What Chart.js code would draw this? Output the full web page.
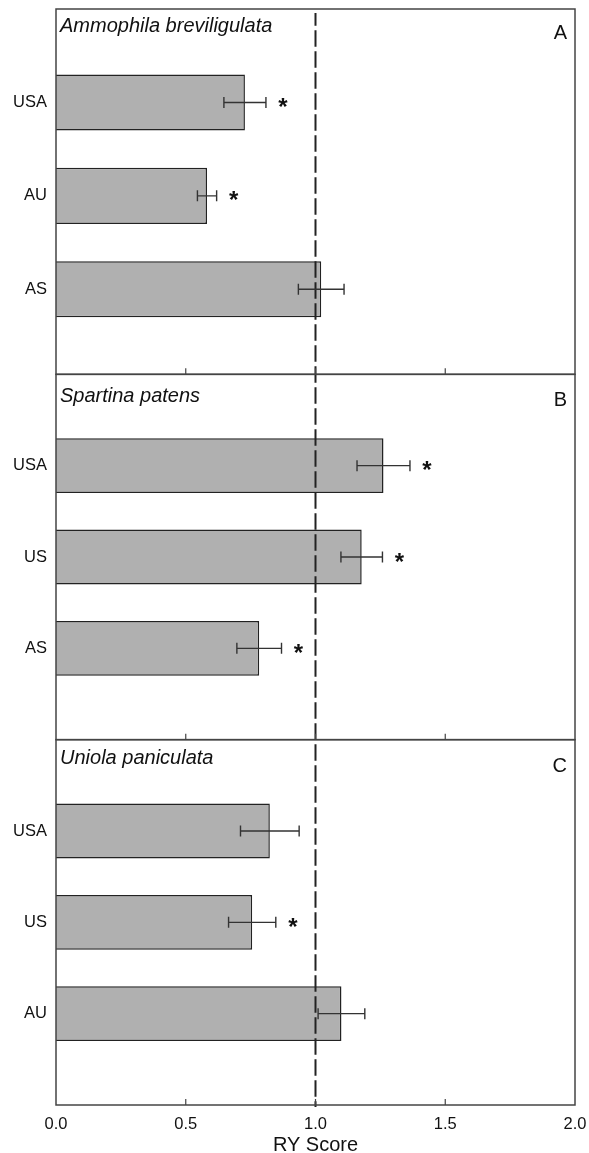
<!DOCTYPE html>
<html lang="en">
<head>
  <meta charset="UTF-8" />
  <title>RY Score</title>
  <script src="https://cdn.jsdelivr.net/npm/chart.js"></script>
  <style>
    html, body { margin: 0; padding: 0; background: #fff; }
  </style>
</head>
<body>
  <canvas id="chart" width="589" height="1153"></canvas>

  <script>
    const FONT = "'Liberation Sans', Arial, sans-serif";

    // panel A
    const speciesA = "Ammophila breviligulata";
    const catsA = ["USA", "AU", "AS"];
    const valsA = [0.728, 0.582, 1.022];
    const errA = [0.081, 0.037, 0.088];
    const sigA = [true, true, false];

    // panel B
    const speciesB = "Spartina patens";
    const catsB = ["USA", "US", "AS"];
    const valsB = [1.262, 1.178, 0.783];
    const errB = [0.102, 0.080, 0.086];
    const sigB = [true, true, true];

    // panel C
    const speciesC = "Uniola paniculata";
    const catsC = ["USA", "US", "AU"];
    const valsC = [0.824, 0.756, 1.100];
    const errC = [0.113, 0.091, 0.090];
    const sigC = [false, true, false];

    const xTicks = [0, 0.5, 1.0, 1.5, 2.0];
    const refLine = 1.0;

    const panels = [
      { id: "yA", letter: "A", species: speciesA, cats: catsA, vals: valsA, err: errA, sig: sigA, max: 3.91, titleDy: 22.5, letterDy: 30 },
      { id: "yB", letter: "B", species: speciesB, cats: catsB, vals: valsB, err: errB, sig: sigB, max: 4, titleDy: 28, letterDy: 32 },
      { id: "yC", letter: "C", species: speciesC, cats: catsC, vals: valsC, err: errC, sig: sigC, max: 4, titleDy: 24.5, letterDy: 32 }
    ];

    function yScale(p, weight) {
      return {
        type: "linear",
        position: "left",
        stack: "panels",
        stackWeight: 1,
        weight: weight,
        reverse: true,
        offset: false,
        min: 0,
        max: p.max,
        afterBuildTicks: s => { s.ticks = p.cats.map((c, i) => ({ value: i + 1 })); },
        ticks: {
          callback: v => p.cats[v - 1] || "",
          font: { family: FONT, size: 16.5 },
          color: "#111",
          padding: 9
        },
        grid: { display: false, drawTicks: false, offset: false },
        border: { display: false },
        afterFit: s => { s.width = 56; s.paddingTop = 0; s.paddingBottom = 0; }
      };
    }

    const scales = {
      x: {
        type: "linear",
        position: "bottom",
        min: 0,
        max: 2,
        afterBuildTicks: s => { s.ticks = xTicks.map(v => ({ value: v })); },
        ticks: {
          callback: v => v.toFixed(1),
          font: { family: FONT, size: 16.5 },
          color: "#111",
          padding: 10,
          maxRotation: 0
        },
        grid: { display: false, drawTicks: false },
        border: { display: false },
        title: {
          display: true,
          text: "RY Score",
          font: { family: FONT, size: 20, lineHeight: 1 },
          color: "#111",
          padding: { top: 0, bottom: -2 }
        },
        afterFit: s => { s.height = 48; s.paddingLeft = 0; s.paddingRight = 0; }
      }
    };
    panels.forEach((p, k) => { scales[p.id] = yScale(p, 3 - k); });

    const datasets = panels.map(p => ({
      label: p.species,
      data: p.vals.map((v, i) => ({ x: v, y: i + 1 })),
      yAxisID: p.id,
      xAxisID: "x",
      grouped: false,
      backgroundColor: "#b0b0b0",
      borderColor: "#222",
      borderWidth: 1.5,
      barPercentage: 0.6,
      categoryPercentage: 1
    }));

    const panelDecor = {
      id: "panelDecor",
      afterDatasetsDraw(chart) {
        const { ctx, chartArea, scales } = chart;
        const x = scales.x;
        ctx.save();

        // dashed reference line
        const rx = x.getPixelForValue(refLine);
        ctx.strokeStyle = "#222";
        ctx.lineWidth = 2;
        ctx.setLineDash([16.5, 4.5]);
        ctx.lineDashOffset = 3.8;
        ctx.beginPath();
        ctx.moveTo(rx, chartArea.top + 4);
        ctx.lineTo(rx, chartArea.bottom + 2);
        ctx.stroke();
        ctx.setLineDash([]);

        panels.forEach(p => {
          const y = scales[p.id];

          p.vals.forEach((v, i) => {
            const cy = y.getPixelForValue(i + 1);
            const x0 = x.getPixelForValue(v - p.err[i]);
            const x1 = x.getPixelForValue(v + p.err[i]);
            ctx.strokeStyle = "#333";
            ctx.lineWidth = 1.4;
            ctx.beginPath();
            ctx.moveTo(x0, cy); ctx.lineTo(x1, cy);
            ctx.moveTo(x0, cy - 5.5); ctx.lineTo(x0, cy + 5.5);
            ctx.moveTo(x1, cy - 5.5); ctx.lineTo(x1, cy + 5.5);
            ctx.stroke();

            if (p.sig[i]) {
              ctx.font = "bold 24px " + FONT;
              ctx.fillStyle = "#111";
              ctx.textAlign = "center";
              ctx.textBaseline = "alphabetic";
              const m = ctx.measureText("*");
              const by = cy + (m.actualBoundingBoxAscent - m.actualBoundingBoxDescent) / 2;
              ctx.fillText("*", x1 + 17, by);
            }
          });

          // panel frame
          ctx.strokeStyle = "#444";
          ctx.lineWidth = 1.5;
          ctx.strokeRect(chartArea.left, y.top, chartArea.right - chartArea.left, y.bottom - y.top);

          // inner ticks on the panel bottom
          ctx.lineWidth = 1.2;
          ctx.beginPath();
          xTicks.slice(1, -1).forEach(t => {
            const px = x.getPixelForValue(t);
            ctx.moveTo(px, y.bottom);
            ctx.lineTo(px, y.bottom - 6);
          });
          ctx.stroke();

          // species name and panel letter
          ctx.fillStyle = "#111";
          ctx.textBaseline = "alphabetic";
          ctx.textAlign = "left";
          ctx.font = "italic 20px " + FONT;
          ctx.fillText(p.species, chartArea.left + 4, y.top + p.titleDy);
          ctx.textAlign = "right";
          ctx.font = "20px " + FONT;
          ctx.fillText(p.letter, chartArea.right - 8, y.top + p.letterDy);
        });

        ctx.restore();
      }
    };

    new Chart(document.getElementById("chart"), {
      type: "bar",
      data: { datasets: datasets },
      options: {
        indexAxis: "y",
        responsive: false,
        devicePixelRatio: 1,
        animation: false,
        layout: { padding: { top: 9, right: 14, left: 0, bottom: 0 } },
        plugins: {
          legend: { display: false },
          tooltip: { enabled: false }
        },
        scales: scales
      },
      plugins: [panelDecor]
    });
  </script>
</body>
</html>
